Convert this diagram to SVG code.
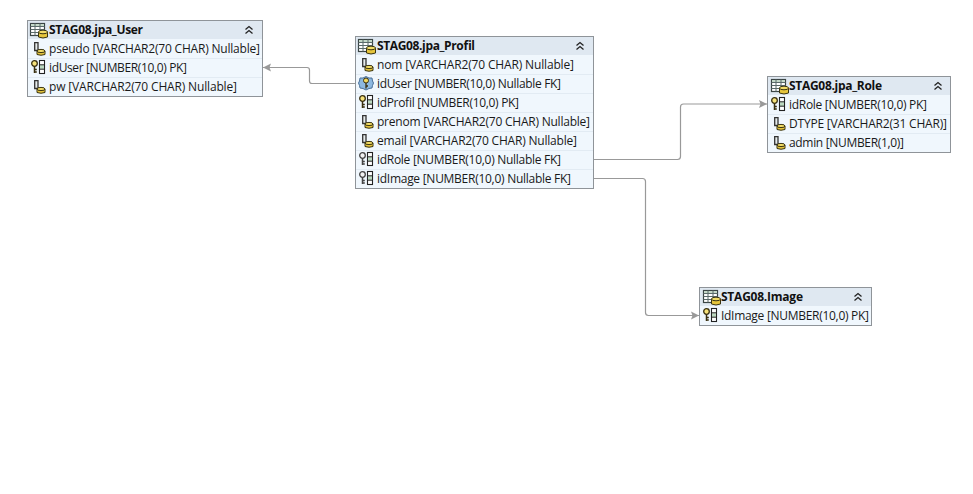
<svg xmlns="http://www.w3.org/2000/svg" width="973" height="494" viewBox="0 0 973 494">
<style>
text{font-family:"Open Sans","Noto Sans","Liberation Sans",sans-serif;font-size:12px;fill:#1a1a1a}
.t{font-weight:700;fill:#111}
.box{fill:#f0f7fd;stroke:#8f9499;stroke-width:1}
.hd{fill:#dfe8f1}
.sep{stroke:#e2ebf3;stroke-width:1}
.c{fill:none;stroke:#999;stroke-width:1.200}
.chev{fill:none;stroke:#222;stroke-width:1.300}
</style>
<defs>
<marker id="a" markerWidth="9" markerHeight="10" refX="8" refY="5" orient="auto" markerUnits="userSpaceOnUse"><path d="M0 1L8 5L0 9L1.500 5z" fill="#999"/></marker>
<g id="tbl"><rect x="0.500" y="0.500" width="14" height="12" fill="#fff" stroke="#3a4444" stroke-width="1.200"/><rect x="1" y="1" width="13" height="2.500" fill="#c4d8c8"/><path d="M0.500 3.500H14.500M0.500 6.500H14.500M0.500 9.500H14.500M5 0.500V12.500M10 0.500V12.500" stroke="#5a6a6a" fill="none"/><path d="M8.500 9V14Q13 16 17.500 14V9z" fill="#e6c53c" stroke="#3a3410"/><ellipse cx="13" cy="9" rx="4.500" ry="1.800" fill="#f2dc66" stroke="#3a3410"/></g>
<g id="col"><path d="M0.700 0.700H4V8.500H0.700z" fill="#e6ecec" stroke="#333" stroke-width="1.300"/><path d="M3 9V12.500Q7 14 11 12.500V9z" fill="#e6c53c" stroke="#3a3410"/><ellipse cx="7" cy="9" rx="4" ry="1.600" fill="#f2dc66" stroke="#3a3410"/></g>
<g id="pk"><circle cx="3.500" cy="3.500" r="2.800" fill="#f6e27a" stroke="#3a3010" stroke-width="1.300"/><path d="M3.500 6.300V13M3.500 9.500H5.800M3.500 12H5.800" stroke="#3a3010" stroke-width="1.500" fill="none"/><rect x="8.500" y="0.500" width="5" height="13" fill="#fff" stroke="#222" stroke-width="1.100"/><rect x="9" y="5" width="4" height="4" fill="#bcd8c0"/><path d="M8.500 4.800H13.500M8.500 9.200H13.500" stroke="#222"/></g>
<g id="fk"><circle cx="3.500" cy="3.500" r="2.800" fill="#f2f2f2" stroke="#444" stroke-width="1.300"/><path d="M3.500 6.300V13M3.500 9.500H5.800M3.500 12H5.800" stroke="#444" stroke-width="1.500" fill="none"/><rect x="8.500" y="0.500" width="5" height="13" fill="#fff" stroke="#222" stroke-width="1.100"/><rect x="9" y="5" width="4" height="4" fill="#bcd8c0"/><path d="M8.500 4.800H13.500M8.500 9.200H13.500" stroke="#222"/></g>
<g id="uq"><path d="M7 0.500L10 2L13 2L13.500 5L14.500 7L13.500 9.500L13 12L10 12.500L7 14L4 12.500L1 12L0.500 9.500L-0.500 7L0.500 5L1 2L4 2z" fill="#8db8e0" stroke="#4a7098"/><circle cx="7" cy="4.500" r="2.500" fill="#f0d860" stroke="#3a3010"/><path d="M7 7V12.500M7 10H9" stroke="#3a3010" stroke-width="1.300" fill="none"/></g>
<path id="ch" d="M-3.500 3.500L0 0.500L3.500 3.500M-3.500 7.500L0 4.500L3.500 7.500"/>
</defs>
<rect width="973" height="494" fill="#fff"/>
<g id="connectors">
<path class="c" marker-end="url(#a)" d="M355 83.500H312Q309.500 83.500 309.500 81V70Q309.500 67.500 307 67.500H263"/>
<path class="c" marker-end="url(#a)" d="M594 159.500H677.500Q680.500 159.500 680.500 156.500V107Q680.500 104 683.500 104H767"/>
<path class="c" marker-end="url(#a)" d="M594 178.500H642.500Q645.500 178.500 645.500 181.500V312.500Q645.500 315.500 648.500 315.500H699"/>
</g>
<g id="jpa_User">
<rect class="box" x="27.500" y="20.500" width="235" height="76"/>
<rect class="hd" x="28" y="21" width="234" height="18"/>
<path class="sep" d="M28 58.500H262M28 77.500H262"/>
<use href="#tbl" x="30" y="23"/><text class="t" x="49" y="34" textLength="94">STAG08.jpa_User</text>
<use class="chev" href="#ch" x="249" y="26"/>
<use href="#col" x="34" y="42"/><text x="49" y="53" textLength="211">pseudo [VARCHAR2(70 CHAR) Nullable]</text>
<use href="#pk" x="31" y="60"/><text x="49" y="72" textLength="138">idUser [NUMBER(10,0) PK]</text>
<use href="#col" x="34" y="80"/><text x="49" y="91" textLength="188">pw [VARCHAR2(70 CHAR) Nullable]</text>
</g>
<g id="jpa_Profil">
<rect class="box" x="355.500" y="36.500" width="238" height="152"/>
<rect class="hd" x="356" y="37" width="237" height="18"/>
<path class="sep" d="M356 74.500H593M356 93.500H593M356 112.500H593M356 131.500H593M356 150.500H593M356 169.500H593"/>
<use href="#tbl" x="358" y="39"/><text class="t" x="377" y="50" textLength="98">STAG08.jpa_Profil</text>
<use class="chev" href="#ch" x="580" y="42"/>
<use href="#col" x="362" y="58"/><text x="377" y="69" textLength="197">nom [VARCHAR2(70 CHAR) Nullable]</text>
<use href="#uq" x="359" y="76"/><text x="377" y="88" textLength="184">idUser [NUMBER(10,0) Nullable FK]</text>
<use href="#pk" x="359" y="95"/><text x="377" y="107" textLength="142">idProfil [NUMBER(10,0) PK]</text>
<use href="#col" x="362" y="115"/><text x="377" y="126" textLength="213">prenom [VARCHAR2(70 CHAR) Nullable]</text>
<use href="#col" x="362" y="134"/><text x="377" y="145" textLength="200">email [VARCHAR2(70 CHAR) Nullable]</text>
<use href="#fk" x="359" y="152"/><text x="377" y="164" textLength="184">idRole [NUMBER(10,0) Nullable FK]</text>
<use href="#fk" x="359" y="171"/><text x="377" y="183" textLength="194">idImage [NUMBER(10,0) Nullable FK]</text>
</g>
<g id="jpa_Role">
<rect class="box" x="767.500" y="76.500" width="183" height="76"/>
<rect class="hd" x="768" y="77" width="182" height="18"/>
<path class="sep" d="M768 114.500H950M768 133.500H950"/>
<use href="#tbl" x="771" y="79"/><text class="t" x="789" y="90" textLength="93">STAG08.jpa_Role</text>
<use class="chev" href="#ch" x="938" y="82"/>
<use href="#pk" x="771" y="97"/><text x="789" y="109" textLength="138">idRole [NUMBER(10,0) PK]</text>
<use href="#col" x="774" y="117"/><text x="789" y="128" textLength="158">DTYPE [VARCHAR2(31 CHAR)]</text>
<use href="#col" x="774" y="136"/><text x="789" y="147" textLength="115">admin [NUMBER(1,0)]</text>
</g>
<g id="Image">
<rect class="box" x="699.500" y="287.500" width="172" height="38"/>
<rect class="hd" x="700" y="288" width="171" height="18"/>
<use href="#tbl" x="703" y="290"/><text class="t" x="721" y="301" textLength="82">STAG08.Image</text>
<use class="chev" href="#ch" x="858" y="293"/>
<use href="#pk" x="703" y="308"/><text x="721" y="320" textLength="148">IdImage [NUMBER(10,0) PK]</text>
</g>
</svg>
